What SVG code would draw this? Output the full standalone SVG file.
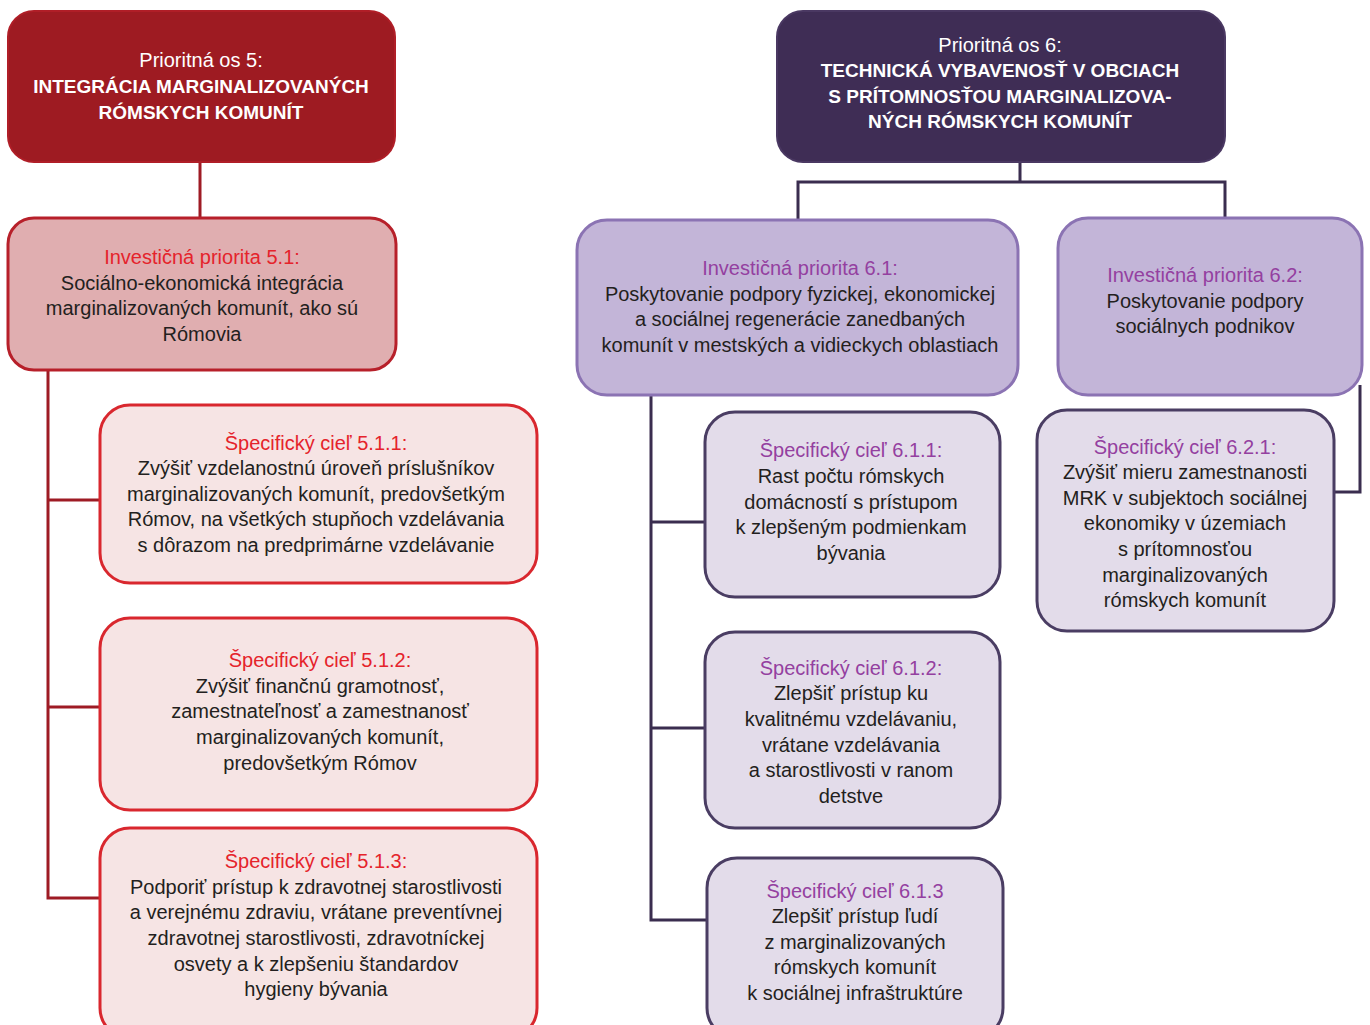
<svg xmlns="http://www.w3.org/2000/svg" width="1370" height="1025" viewBox="0 0 1370 1025">
<style>
text{font-family:"Liberation Sans",Arial,sans-serif;text-anchor:middle;font-size:20px;fill:#231f20}
.w{fill:#fff}
.hb{font-weight:bold;font-size:19px}
.rt{fill:#e5232b}
.pt{fill:#9440a0}
.c5{stroke:#9e1b24;stroke-width:3;fill:none}
.c6{stroke:#3a2d4f;stroke-width:3;fill:none}
.p5{fill:#9e1b22;stroke:#b01e27;stroke-width:2}
.i5{fill:#e0aeb0;stroke:#b7202a;stroke-width:3}
.s5{fill:#f6e4e4;stroke:#d9272e;stroke-width:3}
.p6{fill:#3f2d55;stroke:#4a3862;stroke-width:2}
.i6{fill:#c3b5d8;stroke:#8b73b3;stroke-width:3}
.s6{fill:#e3dcea;stroke:#4a3d63;stroke-width:3}
</style>
<rect width="1370" height="1025" fill="#fff"/>
<g id="connectors">
<path class="c5" d="M200,162V218"/>
<path class="c5" d="M48,370V898H100M48,500H100M48,707H100"/>
<path class="c6" d="M1020,162V182M798,220V182H1225V218"/>
<path class="c6" d="M651,395V920H707M651,522H705M651,728H705"/>
<path class="c6" d="M1360,385V492H1334"/>
</g>
<g id="p5">
<rect class="p5" x="8" y="11" width="387" height="151" rx="26"/>
<text class="w" x="201" y="67">Prioritná os 5:</text>
<text class="w hb" x="201" y="93">INTEGRÁCIA MARGINALIZOVANÝCH</text>
<text class="w hb" x="201" y="119">RÓMSKYCH KOMUNÍT</text>
</g>
<g id="ip51">
<rect class="i5" x="8" y="218" width="388" height="152" rx="26"/>
<text class="rt" x="202" y="264">Investičná priorita 5.1:</text>
<text x="202" y="290">Sociálno-ekonomická integrácia</text>
<text x="202" y="315">marginalizovaných komunít, ako sú</text>
<text x="202" y="341">Rómovia</text>
</g>
<g id="sc511">
<rect class="s5" x="100" y="405" width="437" height="178" rx="30"/>
<text class="rt" x="316" y="450">Špecifický cieľ 5.1.1:</text>
<text x="316" y="475">Zvýšiť vzdelanostnú úroveň príslušníkov</text>
<text x="316" y="501">marginalizovaných komunít, predovšetkým</text>
<text x="316" y="526">Rómov, na všetkých stupňoch vzdelávania</text>
<text x="316" y="552">s dôrazom na predprimárne vzdelávanie</text>
</g>
<g id="sc512">
<rect class="s5" x="100" y="618" width="437" height="192" rx="30"/>
<text class="rt" x="320" y="667">Špecifický cieľ 5.1.2:</text>
<text x="320" y="693">Zvýšiť finančnú gramotnosť,</text>
<text x="320" y="718">zamestnateľnosť a zamestnanosť</text>
<text x="320" y="744">marginalizovaných komunít,</text>
<text x="320" y="770">predovšetkým Rómov</text>
</g>
<g id="sc513">
<rect class="s5" x="100" y="828" width="437" height="210" rx="30"/>
<text class="rt" x="316" y="868">Špecifický cieľ 5.1.3:</text>
<text x="316" y="894">Podporiť prístup k zdravotnej starostlivosti</text>
<text x="316" y="919">a verejnému zdraviu, vrátane preventívnej</text>
<text x="316" y="945">zdravotnej starostlivosti, zdravotníckej</text>
<text x="316" y="971">osvety a k zlepšeniu štandardov</text>
<text x="316" y="996">hygieny bývania</text>
</g>
<g id="p6">
<rect class="p6" x="777" y="11" width="448" height="151" rx="26"/>
<text class="w" x="1000" y="52">Prioritná os 6:</text>
<text class="w hb" x="1000" y="77">TECHNICKÁ VYBAVENOSŤ V OBCIACH</text>
<text class="w hb" x="1000" y="103">S PRÍTOMNOSŤOU MARGINALIZOVA-</text>
<text class="w hb" x="1000" y="128">NÝCH RÓMSKYCH KOMUNÍT</text>
</g>
<g id="ip61">
<rect class="i6" x="577" y="220" width="441" height="175" rx="30"/>
<text class="pt" x="800" y="275">Investičná priorita 6.1:</text>
<text x="800" y="301">Poskytovanie podpory fyzickej, ekonomickej</text>
<text x="800" y="326">a sociálnej regenerácie zanedbaných</text>
<text x="800" y="352">komunít v mestských a vidieckych oblastiach</text>
</g>
<g id="ip62">
<rect class="i6" x="1058" y="218" width="304" height="177" rx="30"/>
<text class="pt" x="1205" y="282">Investičná priorita 6.2:</text>
<text x="1205" y="308">Poskytovanie podpory</text>
<text x="1205" y="333">sociálnych podnikov</text>
</g>
<g id="sc611">
<rect class="s6" x="705" y="412" width="295" height="185" rx="30"/>
<text class="pt" x="851" y="457">Špecifický cieľ 6.1.1:</text>
<text x="851" y="483">Rast počtu rómskych</text>
<text x="851" y="509">domácností s prístupom</text>
<text x="851" y="534">k zlepšeným podmienkam</text>
<text x="851" y="560">bývania</text>
</g>
<g id="sc612">
<rect class="s6" x="705" y="632" width="295" height="196" rx="30"/>
<text class="pt" x="851" y="675">Špecifický cieľ 6.1.2:</text>
<text x="851" y="700">Zlepšiť prístup ku</text>
<text x="851" y="726">kvalitnému vzdelávaniu,</text>
<text x="851" y="752">vrátane vzdelávania</text>
<text x="851" y="777">a starostlivosti v ranom</text>
<text x="851" y="803">detstve</text>
</g>
<g id="sc613">
<rect class="s6" x="707" y="858" width="296" height="180" rx="30"/>
<text class="pt" x="855" y="898">Špecifický cieľ 6.1.3</text>
<text x="855" y="923">Zlepšiť prístup ľudí</text>
<text x="855" y="949">z marginalizovaných</text>
<text x="855" y="974">rómskych komunít</text>
<text x="855" y="1000">k sociálnej infraštruktúre</text>
</g>
<g id="sc621">
<rect class="s6" x="1037" y="410" width="297" height="221" rx="30"/>
<text class="pt" x="1185" y="454">Špecifický cieľ 6.2.1:</text>
<text x="1185" y="479">Zvýšiť mieru zamestnanosti</text>
<text x="1185" y="505">MRK v subjektoch sociálnej</text>
<text x="1185" y="530">ekonomiky v územiach</text>
<text x="1185" y="556">s prítomnosťou</text>
<text x="1185" y="582">marginalizovaných</text>
<text x="1185" y="607">rómskych komunít</text>
</g>
</svg>
